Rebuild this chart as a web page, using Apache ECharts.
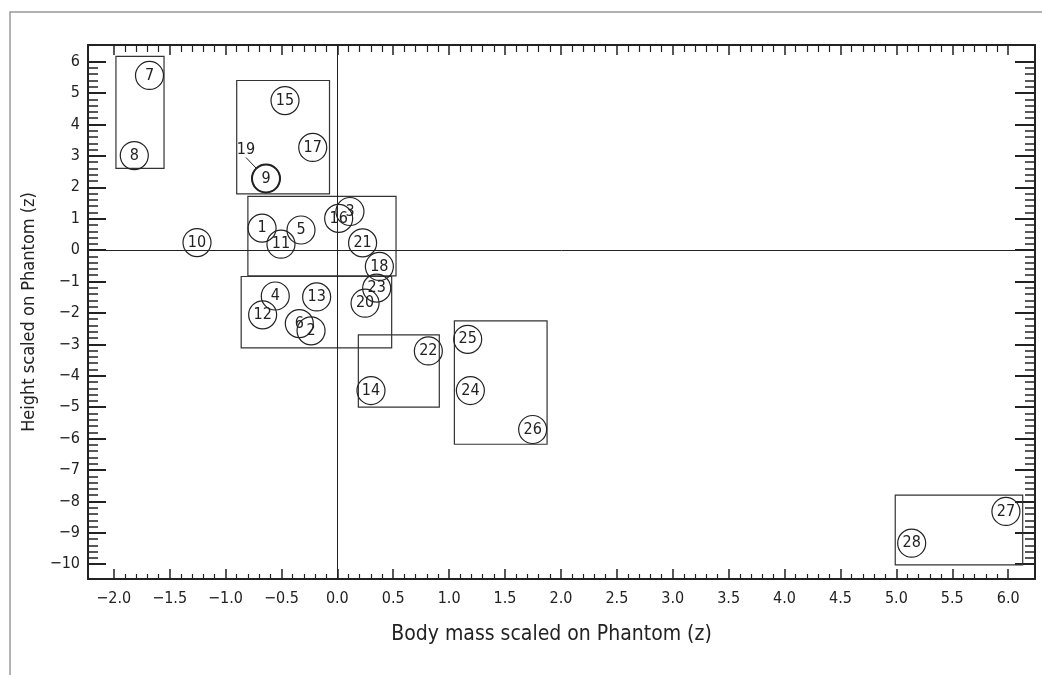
<!DOCTYPE html>
<html><head><meta charset="utf-8">
<script src="https://cdn.jsdelivr.net/npm/echarts@6/dist/echarts.min.js"></script>
<style>html,body{margin:0;padding:0;background:#fff}#c{width:1042px;height:675px}</style>
</head><body><div id="c"></div>
<script>
const pointIds = ['1','2','3','4','5','6','7','8','9','10','11','12','13','14','15','16','17','18','19','20','21','22','23','24','25','26','27','28'];
const pointX = [-0.673,-0.235,0.113,-0.555,-0.325,-0.34,-1.68,-1.816,-0.638,-1.255,-0.504,-0.668,-0.185,0.301,-0.468,0.012,-0.22,0.376,-0.638,0.248,0.226,0.814,0.352,1.19,1.166,1.747,5.98,5.137];
const pointY = [0.70,-2.57,1.23,-1.46,0.64,-2.34,5.56,3.01,2.28,0.24,0.19,-2.06,-1.49,-4.47,4.76,1.01,3.27,-0.52,2.28,-1.69,0.23,-3.21,-1.21,-4.47,-2.84,-5.71,-8.32,-9.33];
// group boxes: [xMin, xMax, yMin, yMax]
const boxA = [-1.98,-1.55,2.60,6.17];
const boxB = [-0.90,-0.07,1.79,5.40];
const boxC = [-0.80,0.525,-0.82,1.71];
const boxD = [-0.86,0.486,-3.11,-0.84];
const boxE = [0.188,0.912,-5.0,-2.70];
const boxF = [1.047,1.876,-6.18,-2.25];
const boxG = [4.99,6.13,-10.02,-7.80];
const boxes = [boxA,boxB,boxC,boxD,boxE,boxF,boxG];
const xTicks = [-2.0,-1.5,-1.0,-0.5,0.0,0.5,1.0,1.5,2.0,2.5,3.0,3.5,4.0,4.5,5.0,5.5,6.0];
const yTicks = [6,5,4,3,2,1,0,-1,-2,-3,-4,-5,-6,-7,-8,-9,-10];
const xRange = [-2.23, 6.24];
const yRange = [-10.47, 6.53];

const FONT = "'Liberation Sans Narrow','DejaVu Sans Condensed','Roboto Condensed','Noto Sans',sans-serif";
const INK = '#222';
function minors(majors, n){
  const s = majors.slice().sort((a,b)=>a-b); const out=[];
  for(let i=0;i<s.length-1;i++){ for(let k=1;k<n;k++){ out.push(+(s[i]+(s[i+1]-s[i])*k/n).toFixed(4)); } }
  return out;
}
const xMinor = minors(xTicks,5), yMinor = minors(yTicks,5);
const minus = s => s.replace('-', '\u2212');
function xAx(pos, vals, len, w, showLine, showLabel){
  return {type:'value', position:pos, min:xRange[0], max:xRange[1],
    axisLine:{show:showLine, onZero:false, lineStyle:{color:INK, width:2}},
    axisTick:{show:true, inside:true, customValues:vals, length:len, lineStyle:{color:INK, width:w}},
    axisLabel:{show:showLabel, customValues:vals, margin:12, color:INK, fontSize:16, fontFamily:FONT, formatter:v=>minus(v.toFixed(1))},
    splitLine:{show:false}};
}
function yAx(pos, vals, len, w, showLine, showLabel){
  return {type:'value', position:pos, min:yRange[0], max:yRange[1],
    axisLine:{show:showLine, onZero:false, lineStyle:{color:INK, width:2}},
    axisTick:{show:true, inside:true, customValues:vals, length:len, lineStyle:{color:INK, width:w}},
    axisLabel:{show:showLabel, customValues:vals, margin:8, color:INK, fontSize:16, fontFamily:FONT, formatter:v=>minus(String(Math.round(v)))},
    splitLine:{show:false}};
}
const xA = [xAx('bottom',xTicks,10,1.5,true,true), xAx('bottom',xMinor,5,1.2,false,false), xAx('top',xTicks,10,1.5,true,false), xAx('top',xMinor,7,1.2,false,false)];
xA[0].name = 'Body mass scaled on Phantom (z)'; xA[0].nameLocation='middle'; xA[0].nameGap=45;
xA[0].nameTextStyle = {fontSize:21, color:INK, fontFamily:FONT, padding:[0,20,0,0]};
const yA = [yAx('left',yTicks,18,2,true,true), yAx('left',yMinor,10,1.5,false,false), yAx('right',yTicks,20,2,true,false), yAx('right',yMinor,10,1.5,false,false)];
yA[0].name = 'Height scaled on Phantom (z)'; yA[0].nameLocation='middle'; yA[0].nameGap=41;
yA[0].nameTextStyle = {fontSize:18, color:INK, fontFamily:FONT};

const pts = pointIds.map((id,i)=>{
  const d = {name:id, value:[pointX[i], pointY[i]]};
  if(id==='19'){
    d.itemStyle = {borderWidth:2};
    d.labelLine = {show:true, length2:0, lineStyle:{color:INK, width:1}};
  }
  return d;
});

const chart = echarts.init(document.getElementById('c'), null, {renderer:'canvas'});
chart.setOption({
  animation:false,
  backgroundColor:'#fff',
  grid:{left:88, right:7, top:45, bottom:96},
  xAxis:xA, yAxis:yA,
  graphic:[{type:'polyline', shape:{points:[[10,675],[10,12],[1042,12]]}, style:{stroke:'#999', lineWidth:1.5, fill:null}}],
  series:[{
    type:'scatter', xAxisIndex:0, yAxisIndex:0,
    symbol:'circle', symbolSize:28,
    itemStyle:{color:'rgba(0,0,0,0)', borderColor:INK, borderWidth:1.2, opacity:1},
    label:{show:true, position:'inside', formatter:p=>p.name, color:INK, fontSize:16, fontFamily:FONT},
    labelLayout:function(p){
      if(p.dataIndex===18){ return {dx:-20, dy:-29}; }
      return {};
    },
    labelLine:{show:false},
    emphasis:{disabled:true},
    data:pts,
    markLine:{silent:true, symbol:'none', animation:false, label:{show:false},
      lineStyle:{color:INK, width:1, type:'solid'},
      data:[{xAxis:0},{yAxis:0}]},
    markArea:{silent:true, label:{show:false},
      itemStyle:{color:'rgba(0,0,0,0)', borderColor:'#333', borderWidth:1.2},
      data:boxes.map(b=>[{coord:[b[0],b[3]]},{coord:[b[1],b[2]]}])}
  }]
});
</script></body></html>
